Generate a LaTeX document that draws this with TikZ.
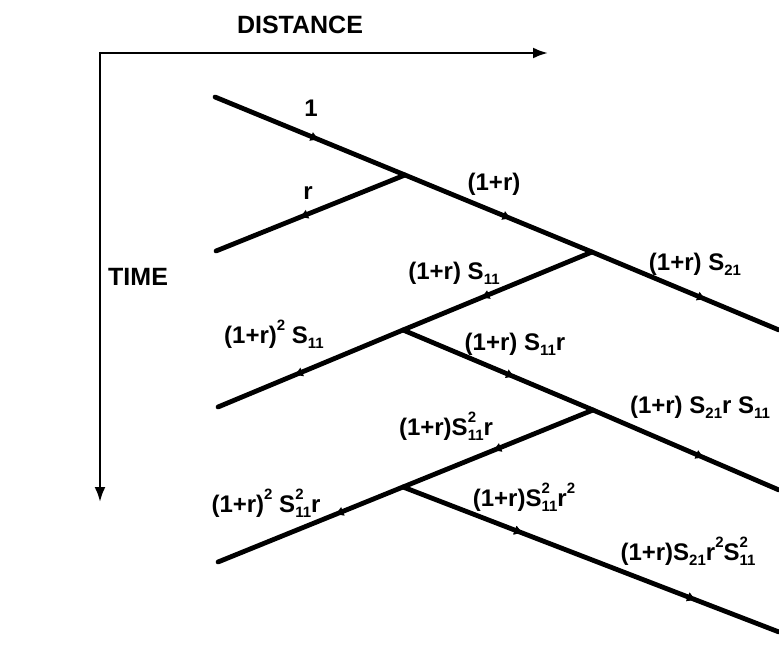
\documentclass[tikz,border=0pt]{standalone}
\usepackage{fontspec}
\setmainfont{Liberation Sans}
\usetikzlibrary{decorations.markings,arrows.meta}
\newcommand\mysub[1]{\raisebox{-0.45ex}{\fontsize{15}{15}\selectfont #1}}
\newcommand\mysup[1]{\raisebox{1.0ex}{\fontsize{15}{15}\selectfont #1}}
\newcommand\mysupsub[2]{\makebox[0pt][l]{\mysup{#1}}\mysub{#2}}
\tikzset{
  wave/.style={line width=4.8pt, line cap=round},
  axis/.style={line width=2.5pt, -{Latex[length=15pt,width=11pt]}},
  tickat/.style={postaction={decorate}, decoration={markings,
      mark=at position #1 with {\arrow{Latex[length=9pt,width=10pt]}}}},
  lab/.style={font=\fontsize{24}{28}\selectfont\bfseries, inner sep=0pt, anchor=base},
  axlab/.style={font=\fontsize{25}{28}\selectfont\bfseries, inner sep=0pt, anchor=base},
}
\begin{document}
\begin{tikzpicture}[x=1pt,y=-1pt]
\useasboundingbox[fill=white] (0,0) rectangle (779,645);
% axes
\coordinate (O) at (100,53);
\coordinate (xe) at (548,53);
\coordinate (te) at (100,502);
\draw[axis] (O) -- (xe);
\draw[axis] ([yshift=1.25pt]O) -- (te);
\node[axlab] (dist) at (300,33) {DISTANCE};
\node[axlab, anchor=base west] (time) at (108,285) {TIME};
% points
\coordinate (a0) at (215,97);
\coordinate (J1) at (405,175);
\coordinate (J2) at (592,252);
\coordinate (e1) at (779,330);
\coordinate (b0) at (216,251);
\coordinate (c0) at (218,407);
\coordinate (J3) at (403,330);
\coordinate (J4) at (593,410);
\coordinate (e2) at (779,490);
\coordinate (d0) at (218,562);
\coordinate (J5) at (403,487);
\coordinate (e3) at (779,632);
% waves
\draw[wave, tickat=0.55] (a0) -- (J1);
\draw[wave, tickat=0.57] (J1) -- (J2);
\draw[wave, tickat=0.61] (J2) -- (e1);
\draw[wave, tickat=0.56] (J1) -- (b0);
\draw[wave, tickat=0.59] (J2) -- (J3);
\draw[wave, tickat=0.59] (J3) -- (c0);
\draw[wave, tickat=0.59] (J3) -- (J4);
\draw[wave, tickat=0.60] (J4) -- (e2);
\draw[wave, tickat=0.53] (J4) -- (J5);
\draw[wave, tickat=0.37] (J5) -- (d0);
\draw[wave, tickat=0.32, tickat=0.78] (J5) -- (e3);
% labels
\node[lab, anchor=center] (l1) at (311,108) {1};
\node[lab, anchor=center] (l2) at (308,193) {r};
\node[lab] (l3) at (494,190) {(1+r)};
\node[lab] (l4) at (695,270) {(1+r) S\mysub{21}};
\node[lab] (l5) at (454,279) {(1+r) S\mysub{11}};
\node[lab] (l6) at (274,343) {(1+r)\mysup{2} S\mysub{11}};
\node[lab] (l7) at (515,350) {(1+r) S\mysub{11}r};
\node[lab] (l8) at (700,413) {(1+r) S\mysub{21}r S\mysub{11}};
\node[lab] (l9) at (446,435) {(1+r)S\mysupsub{2}{11}r};
\node[lab] (l10) at (266,512) {(1+r)\mysup{2} S\mysupsub{2}{11}r};
\node[lab] (l11) at (524,506) {(1+r)S\mysupsub{2}{11}r\mysup{2}};
\node[lab] (l12) at (688,560) {(1+r)S\mysub{21}r\mysup{2}S\mysupsub{2}{11}};
\end{tikzpicture}
\end{document}
